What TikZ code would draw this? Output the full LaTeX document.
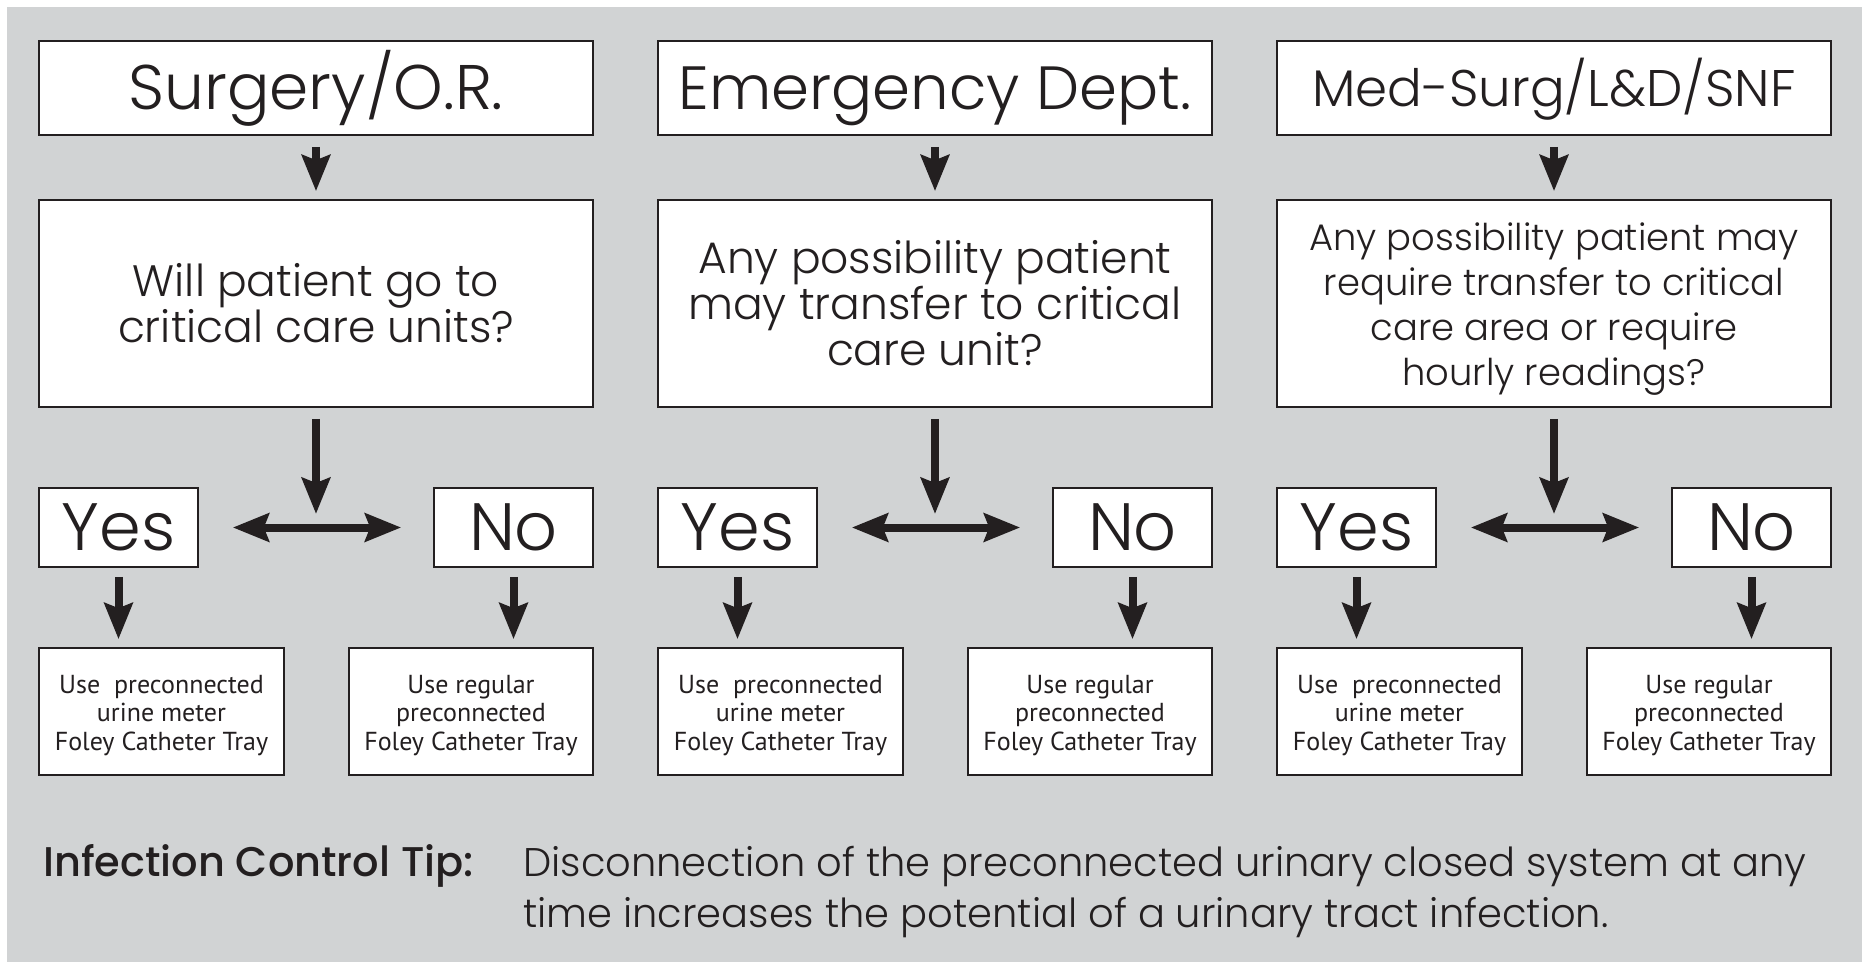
\documentclass[tikz,border=0pt]{standalone}
\usepackage{fontspec}
\IfFontExistsTF{Poppins Light}{\setmainfont{Poppins Light}}{\setmainfont{Poppins}}
\IfFontExistsTF{Poppins Medium}{\newfontfamily\tipfont{Poppins Medium}}{\newfontfamily\tipfontbase{Poppins}\newcommand\tipfont{\tipfontbase\bfseries}}
\newfontfamily\smallfont{PT Sans}
\usetikzlibrary{arrows.meta}
\definecolor{bg}{HTML}{D1D3D4}
\definecolor{ink}{HTML}{231F20}
\tikzset{
  box/.style={draw=ink, line width=1.6pt, fill=white, text=ink, inner sep=0pt, align=center},
  topbox/.style={box, minimum width=554pt, minimum height=94pt, text depth=0pt},
  titlefont/.style={font=\fontsize{62}{70}\selectfont, text height=43.4pt},
  qbox/.style={box, minimum width=554pt, minimum height=207pt, font=\fontsize{44}{46}\selectfont},
  ynbox/.style={box, minimum width=159pt, minimum height=79pt, text height=46.9pt, text depth=0pt, font=\fontsize{67}{70}\selectfont},
  resbox/.style={box, minimum height=127pt, font=\smallfont\fontsize{26}{28.5}\selectfont},
  arr/.style={draw=ink, line width=8pt, -{Stealth[length=36pt,width=28pt,inset=5pt]}},
  darr/.style={draw=ink, line width=8pt, {Stealth[length=36pt,width=28pt,inset=5pt]}-{Stealth[length=36pt,width=28pt,inset=5pt]}},
  tiptxt/.style={text=ink, inner sep=0pt, anchor=base west}
}
\newcommand\uprule[1]{\rule{0pt}{#1}}
\begin{document}
\begin{tikzpicture}[x=1pt,y=-1pt]
\useasboundingbox (0,0) rectangle (1862,962);
\fill[white] (0,0) rectangle (1862,962);
\fill[bg] (7,7) rectangle (1862,962);

% column 1
\node[topbox, titlefont, font=\fontsize{63}{70}\selectfont] (t1) at (316,88) {Surgery/O.R.};
\node[qbox] (q1) at (316,303.5) {Will patient go to\\critical care units?};
\node[ynbox] (y1) at (118.5,527.5) {Yes};
\node[ynbox] (n1) at (513.5,527.5) {No};
\node[resbox, minimum width=245pt] (ry1) at (161.5,711.5) {\uprule{26pt}Use\ \ preconnected\\urine meter\\Foley Catheter Tray};
\node[resbox, minimum width=244pt] (rn1) at (471,711.5) {\uprule{26pt}Use regular\\preconnected\\Foley Catheter Tray};
\coordinate (j1) at (316,514);

% column 2
\node[topbox, titlefont, font=\fontsize{61}{70}\selectfont] (t2) at (935,88) {Emergency Dept.};
\node[qbox] (q2) at (935,303.5) {Any possibility patient\\may transfer to critical\\care unit?};
\node[ynbox] (y2) at (737.5,527.5) {Yes};
\node[ynbox] (n2) at (1132.5,527.5) {No};
\node[resbox, minimum width=245pt] (ry2) at (780.5,711.5) {\uprule{26pt}Use\ \ preconnected\\urine meter\\Foley Catheter Tray};
\node[resbox, minimum width=244pt] (rn2) at (1090,711.5) {\uprule{26pt}Use regular\\preconnected\\Foley Catheter Tray};
\coordinate (j2) at (935,514);

% column 3
\node[topbox, font=\fontsize{51.5}{56}\selectfont, text height=36pt] (t3) at (1554,88) {Med-Surg/L\&D/SNF};
\node[qbox, font=\fontsize{36.9}{45}\selectfont] (q3) at (1554,303.5) {\uprule{39pt}Any possibility patient may\\require transfer to critical\\care area or require\\hourly readings?};
\node[ynbox] (y3) at (1356.5,527.5) {Yes};
\node[ynbox] (n3) at (1751.5,527.5) {No};
\node[resbox, minimum width=245pt] (ry3) at (1399.5,711.5) {\uprule{26pt}Use\ \ preconnected\\urine meter\\Foley Catheter Tray};
\node[resbox, minimum width=244pt] (rn3) at (1709,711.5) {\uprule{26pt}Use regular\\preconnected\\Foley Catheter Tray};
\coordinate (j3) at (1554,514);

% connectors
\foreach \i in {1,2,3}{
  \draw[arr, shorten <=11pt, shorten >=8pt] (t\i.south) -- (q\i.north);
  \draw[arr, shorten <=11pt] (q\i.south) -- (j\i);
  \draw[darr, shorten <=34pt, shorten >=32pt] (y\i.east) -- (n\i.west);
  \draw[arr, shorten <=9pt, shorten >=8pt] (y\i.south) -- (y\i.south |- ry\i.north);
  \draw[arr, shorten <=9pt, shorten >=8pt] (n\i.south) -- (n\i.south |- rn\i.north);
}

% tip
\node[tiptxt, font=\tipfont\fontsize{41.5}{51}\selectfont] (tiplabel) at (43,876) {Infection Control Tip:};
\node[tiptxt, font=\fontsize{40}{51}\selectfont] (tipbody) at (523,876) {\vtop{\hbox{Disconnection of the preconnected urinary closed system at any}\hbox{time increases the potential of a urinary tract infection.}}};
\end{tikzpicture}
\end{document}
